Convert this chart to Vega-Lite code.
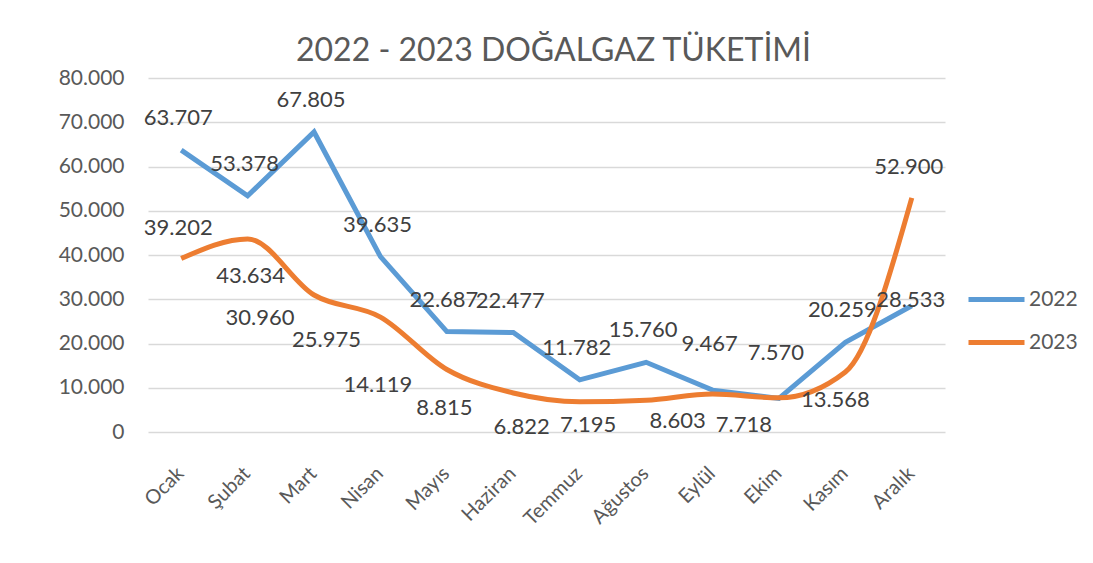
{
  "$schema": "https://vega.github.io/schema/vega-lite/v6.json",
  "width": 797,
  "height": 354,
  "autosize": {"type": "none"},
  "padding": {"left": 148, "top": 78, "right": 148, "bottom": 131},
  "background": "white",
  "config": {
    "locale": {"number": {"decimal": ",", "thousands": ".", "grouping": [3], "currency": ["", " TL"]}},
    "font": "Lato",
    "view": {"stroke": null}
  },
  "title": {"text": "2022 - 2023 DOĞALGAZ TÜKETİMİ", "fontSize": 32, "fontWeight": "normal", "color": "#595959", "anchor": "middle", "offset": -1, "dx": 7, "font": "Lato"},
  "data": {"values": [
    {"month": "Ocak", "year": "2022", "value": 63707},
    {"month": "Şubat", "year": "2022", "value": 53378},
    {"month": "Mart", "year": "2022", "value": 67805},
    {"month": "Nisan", "year": "2022", "value": 39635},
    {"month": "Mayıs", "year": "2022", "value": 22687},
    {"month": "Haziran", "year": "2022", "value": 22477},
    {"month": "Temmuz", "year": "2022", "value": 11782},
    {"month": "Ağustos", "year": "2022", "value": 15760},
    {"month": "Eylül", "year": "2022", "value": 9467},
    {"month": "Ekim", "year": "2022", "value": 7570},
    {"month": "Kasım", "year": "2022", "value": 20259},
    {"month": "Aralık", "year": "2022", "value": 28533},
    {"month": "Ocak", "year": "2023", "value": 39202},
    {"month": "Şubat", "year": "2023", "value": 43634},
    {"month": "Mart", "year": "2023", "value": 30960},
    {"month": "Nisan", "year": "2023", "value": 25975},
    {"month": "Mayıs", "year": "2023", "value": 14119},
    {"month": "Haziran", "year": "2023", "value": 8815},
    {"month": "Temmuz", "year": "2023", "value": 6822},
    {"month": "Ağustos", "year": "2023", "value": 7195},
    {"month": "Eylül", "year": "2023", "value": 8603},
    {"month": "Ekim", "year": "2023", "value": 7718},
    {"month": "Kasım", "year": "2023", "value": 13568},
    {"month": "Aralık", "year": "2023", "value": 52900}
  ]},
  "encoding": {
    "x": {
      "field": "month", "type": "ordinal",
      "sort": ["Ocak", "Şubat", "Mart", "Nisan", "Mayıs", "Haziran", "Temmuz", "Ağustos", "Eylül", "Ekim", "Kasım", "Aralık"],
      "scale": {"type": "point", "padding": 0.5},
      "axis": {"title": null, "labelAngle": -45, "labelAlign": "right", "labelBaseline": "top", "labelFontSize": 20, "labelColor": "#595959", "domain": false, "ticks": false, "labelPadding": 31, "labelOffset": -8, "grid": false}
    },
    "y": {
      "field": "value", "type": "quantitative",
      "scale": {"domain": [0, 80000]},
      "axis": {"title": null, "values": [0, 10000, 20000, 30000, 40000, 50000, 60000, 70000, 80000], "format": ",.0f", "labelFontSize": 21, "labelColor": "#595959", "domain": false, "ticks": false, "labelPadding": 24, "gridColor": "#d9d9d9", "gridWidth": 1.5}
    }
  },
  "layer": [
    {
      "transform": [{"filter": "datum.year == '2022'"}],
      "mark": {"type": "line", "strokeWidth": 5, "interpolate": "linear"},
      "encoding": {
        "color": {"field": "year", "type": "nominal",
          "scale": {"domain": ["2022", "2023"], "range": ["#5B9BD5", "#ED7D31"]},
          "legend": {"title": null, "orient": "none", "legendX": 818, "legendY": 191, "symbolType": "stroke", "symbolSize": 3136, "symbolStrokeWidth": 5, "labelFontSize": 21, "labelColor": "#595959", "rowPadding": 2, "labelOffset": 2}}
      }
    },
    {
      "transform": [{"filter": "datum.year == '2023'"}],
      "mark": {"type": "line", "strokeWidth": 5, "interpolate": "monotone"},
      "encoding": {
        "color": {"field": "year", "type": "nominal"}
      }
    },
    {
      "transform": [{"filter": "datum.year == '2022' && indexof(['Eylül','Ekim','Aralık'], datum.month) < 0"}],
      "mark": {"type": "text", "fontSize": 22, "color": "#404040", "dx": -3, "dy": -32},
      "encoding": {"text": {"field": "value", "type": "quantitative", "format": ",.0f"}}
    },
    {
      "transform": [{"filter": "datum.year == '2022' && indexof(['Eylül','Ekim'], datum.month) >= 0"}],
      "mark": {"type": "text", "fontSize": 22, "color": "#404040", "dx": -3, "dy": -46},
      "encoding": {"text": {"field": "value", "type": "quantitative", "format": ",.0f"}}
    },
    {
      "transform": [{"filter": "datum.year == '2022' && datum.month == 'Aralık'"}],
      "mark": {"type": "text", "fontSize": 22, "color": "#404040", "dx": -1, "dy": -6},
      "encoding": {"text": {"field": "value", "type": "quantitative", "format": ",.0f"}}
    },
    {
      "transform": [{"filter": "datum.year == '2023' && indexof(['Ocak','Aralık'], datum.month) >= 0"}],
      "mark": {"type": "text", "fontSize": 22, "color": "#404040", "dx": -3, "dy": -31},
      "encoding": {"text": {"field": "value", "type": "quantitative", "format": ",.0f"}}
    },
    {
      "transform": [{"filter": "datum.year == '2023' && datum.month == 'Şubat'"}],
      "mark": {"type": "text", "fontSize": 22, "color": "#404040", "dx": 3, "dy": 37},
      "encoding": {"text": {"field": "value", "type": "quantitative", "format": ",.0f"}}
    },
    {
      "transform": [{"filter": "datum.year == '2023' && datum.month == 'Kasım'"}],
      "mark": {"type": "text", "fontSize": 22, "color": "#404040", "dx": -10, "dy": 28},
      "encoding": {"text": {"field": "value", "type": "quantitative", "format": ",.0f"}}
    },
    {
      "transform": [{"filter": "datum.year == '2023' && indexof(['Mart','Nisan'], datum.month) >= 0"}],
      "mark": {"type": "text", "fontSize": 22, "color": "#404040", "dx": -54, "dy": 23},
      "encoding": {"text": {"field": "value", "type": "quantitative", "format": ",.0f"}}
    },
    {
      "transform": [{"filter": "datum.year == '2023' && indexof(['Mayıs','Haziran'], datum.month) >= 0"}],
      "mark": {"type": "text", "fontSize": 22, "color": "#404040", "dx": -69, "dy": 15},
      "encoding": {"text": {"field": "value", "type": "quantitative", "format": ",.0f"}}
    },
    {
      "transform": [{"filter": "datum.year == '2023' && indexof(['Temmuz','Ağustos'], datum.month) >= 0"}],
      "mark": {"type": "text", "fontSize": 22, "color": "#404040", "dx": -58, "dy": 25},
      "encoding": {"text": {"field": "value", "type": "quantitative", "format": ",.0f"}}
    },
    {
      "transform": [{"filter": "datum.year == '2023' && indexof(['Eylül','Ekim'], datum.month) >= 0"}],
      "mark": {"type": "text", "fontSize": 22, "color": "#404040", "dx": -35, "dy": 27},
      "encoding": {"text": {"field": "value", "type": "quantitative", "format": ",.0f"}}
    }
  ]
}
